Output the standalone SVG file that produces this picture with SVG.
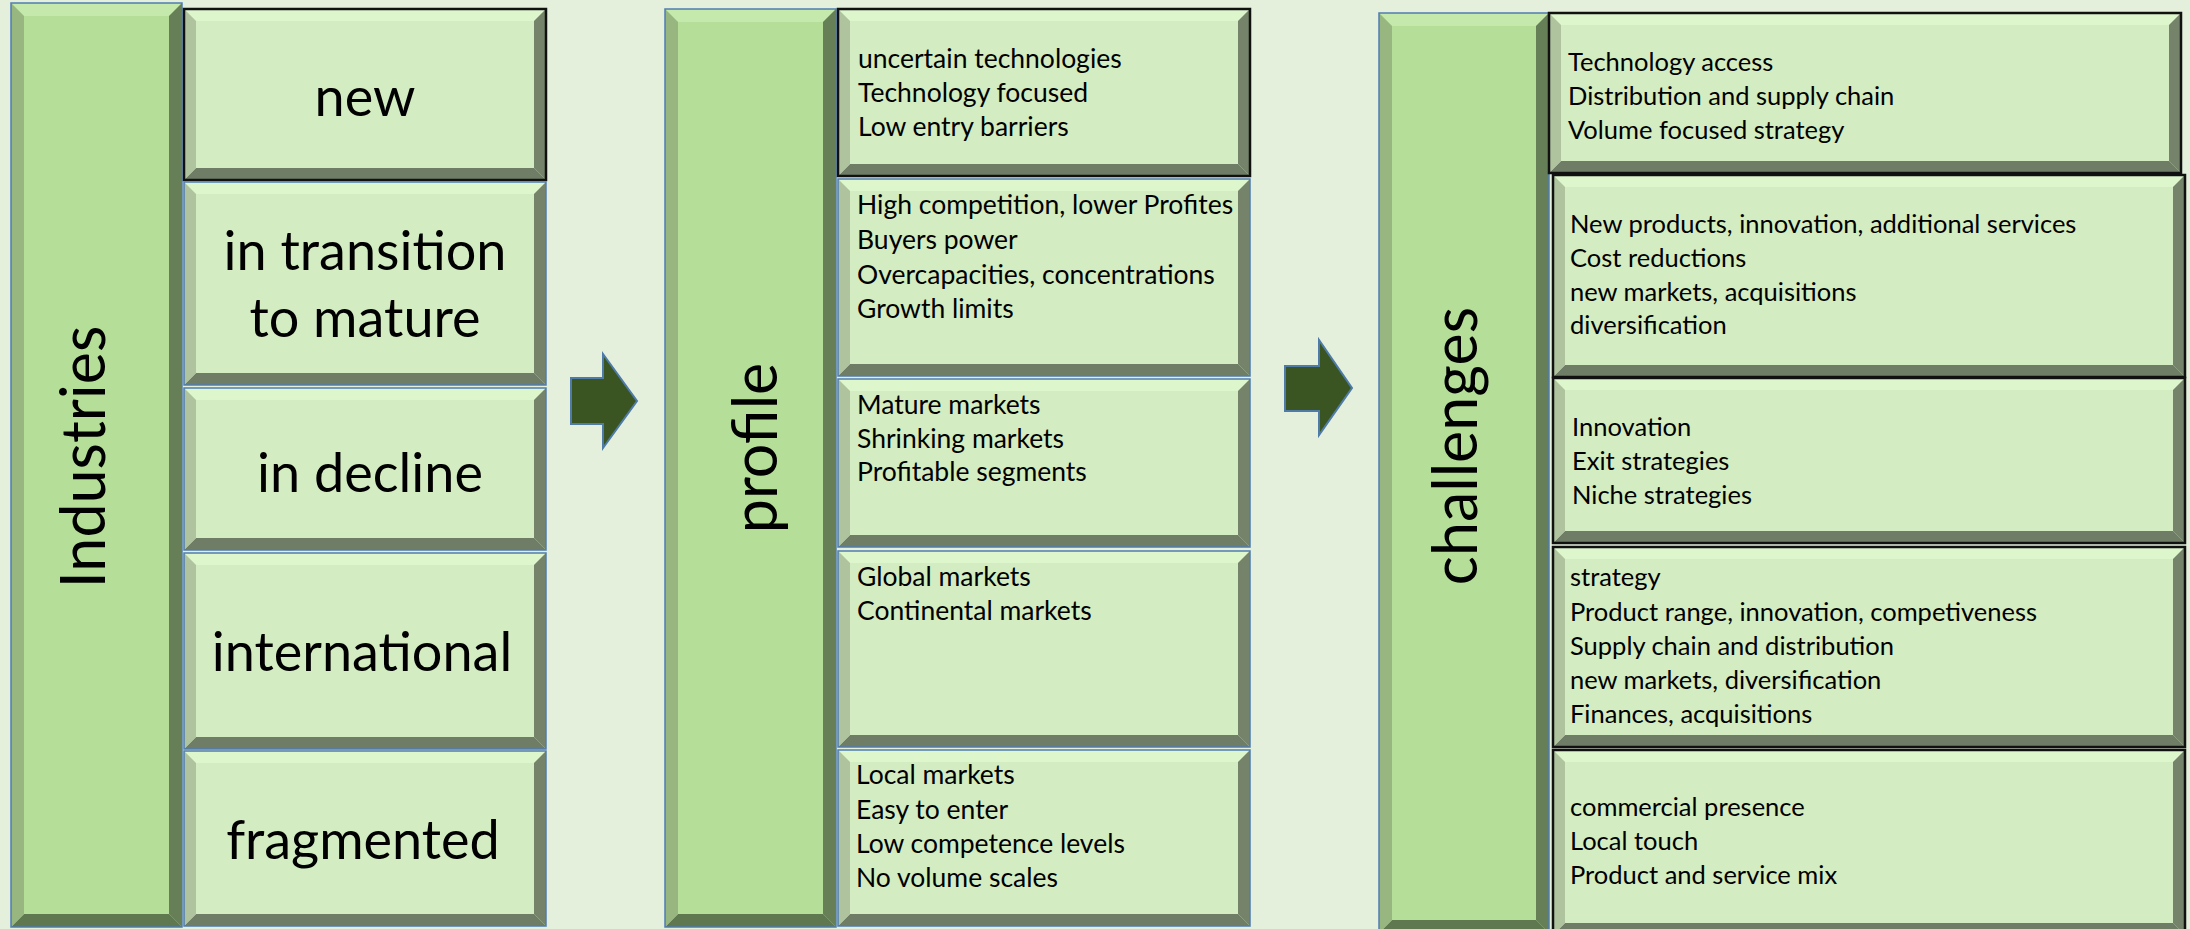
<svg xmlns="http://www.w3.org/2000/svg" width="2190" height="929" viewBox="0 0 2190 929">
<defs>
<style>
.bg{fill:#E4EFDC}
.bf{fill:#B5DE98}
.bt{fill:#C5E9AC}
.bl{fill:#98B680}
.br{fill:#677F56}
.bb{fill:#607850}
.bo{fill:none;stroke:#4F7DB0;stroke-width:1.5}
.f{fill:#D3ECC1}
.t{fill:#DDF6CC}
.l{fill:#AEC39E}
.r{fill:#74836A}
.b{fill:#6F7D66}
.ob{fill:none;stroke:#4F7DB0;stroke-width:1.5}
.ok{fill:none;stroke:#111;stroke-width:2.5}
.big{font-family:Lato,"Liberation Sans",sans-serif;font-size:54px;fill:#000;text-anchor:middle}
.rot{font-family:Lato,"Liberation Sans",sans-serif;font-size:61px;fill:#000;text-anchor:middle}
.lst{font-family:Lato,"Liberation Sans",sans-serif;font-size:26.5px;fill:#000}
.lsc{font-family:Lato,"Liberation Sans",sans-serif;font-size:25.5px;fill:#000}
.arr{fill:#3A5521;stroke:#4E7BA8;stroke-width:2}
</style>
</defs>
<rect class="bg" x="0" y="0" width="2190" height="929"/>

<!-- Column 1 -->
<g id="industries">
<rect class="bf" x="11" y="3" width="171" height="924"/>
<polygon class="bt" points="11,3 182,3 169,16 24,16"/>
<polygon class="bb" points="11,927 182,927 169,914 24,914"/>
<polygon class="bl" points="11,3 24,16 24,914 11,927"/>
<polygon class="br" points="182,3 169,16 169,914 182,927"/>
<rect class="bo" x="11" y="3" width="171" height="924"/>
<text class="rot" transform="translate(105,457) rotate(-90)">Industries</text>
</g>

<g id="ind-new">
<rect class="f" x="184" y="9" width="362" height="171"/>
<polygon class="t" points="184,9 546,9 534,21 196,21"/>
<polygon class="b" points="184,180 546,180 534,168 196,168"/>
<polygon class="l" points="184,9 196,21 196,168 184,180"/>
<polygon class="r" points="546,9 534,21 534,168 546,180"/>
<rect class="ok" x="184" y="9" width="362" height="171"/>
<text class="big" x="365" y="116">new</text>
</g>

<g id="ind-transition">
<rect class="f" x="184" y="182" width="362" height="203"/>
<polygon class="t" points="184,182 546,182 534,194 196,194"/>
<polygon class="b" points="184,385 546,385 534,373 196,373"/>
<polygon class="l" points="184,182 196,194 196,373 184,385"/>
<polygon class="r" points="546,182 534,194 534,373 546,385"/>
<rect class="ob" x="184" y="182" width="362" height="203"/>
<text class="big" x="365" y="270">in transition</text>
<text class="big" x="365" y="337">to mature</text>
</g>

<g id="ind-decline">
<rect class="f" x="184" y="388" width="362" height="162"/>
<polygon class="t" points="184,388 546,388 534,400 196,400"/>
<polygon class="b" points="184,550 546,550 534,538 196,538"/>
<polygon class="l" points="184,388 196,400 196,538 184,550"/>
<polygon class="r" points="546,388 534,400 534,538 546,550"/>
<rect class="ob" x="184" y="388" width="362" height="162"/>
<text class="big" x="370" y="492">in decline</text>
</g>

<g id="ind-international">
<rect class="f" x="184" y="553" width="362" height="196"/>
<polygon class="t" points="184,553 546,553 534,565 196,565"/>
<polygon class="b" points="184,749 546,749 534,737 196,737"/>
<polygon class="l" points="184,553 196,565 196,737 184,749"/>
<polygon class="r" points="546,553 534,565 534,737 546,749"/>
<rect class="ob" x="184" y="553" width="362" height="196"/>
<text class="big" x="362" y="671">international</text>
</g>

<g id="ind-fragmented">
<rect class="f" x="184" y="751" width="362" height="175"/>
<polygon class="t" points="184,751 546,751 534,763 196,763"/>
<polygon class="b" points="184,926 546,926 534,914 196,914"/>
<polygon class="l" points="184,751 196,763 196,914 184,926"/>
<polygon class="r" points="546,751 534,763 534,914 546,926"/>
<rect class="ob" x="184" y="751" width="362" height="175"/>
<text class="big" x="363" y="859">fragmented</text>
</g>

<!-- Column 2 -->
<g id="profile">
<rect class="bf" x="665" y="9" width="171" height="918"/>
<polygon class="bt" points="665,9 836,9 823,22 678,22"/>
<polygon class="bb" points="665,927 836,927 823,914 678,914"/>
<polygon class="bl" points="665,9 678,22 678,914 665,927"/>
<polygon class="br" points="836,9 823,22 823,914 836,927"/>
<rect class="bo" x="665" y="9" width="171" height="918"/>
<text class="rot" transform="translate(777,448) rotate(-90)">profile</text>
</g>

<g id="pro-1">
<rect class="f" x="838" y="9" width="412" height="167"/>
<polygon class="t" points="838,9 1250,9 1238,21 850,21"/>
<polygon class="b" points="838,176 1250,176 1238,164 850,164"/>
<polygon class="l" points="838,9 850,21 850,164 838,176"/>
<polygon class="r" points="1250,9 1238,21 1238,164 1250,176"/>
<rect class="ok" x="838" y="9" width="412" height="167"/>
<text class="lst" x="858" y="68">uncertain technologies</text>
<text class="lst" x="858" y="102">Technology focused</text>
<text class="lst" x="858" y="136">Low entry barriers</text>
</g>

<g id="pro-2">
<rect class="f" x="838" y="179" width="412" height="197"/>
<polygon class="t" points="838,179 1250,179 1238,191 850,191"/>
<polygon class="b" points="838,376 1250,376 1238,364 850,364"/>
<polygon class="l" points="838,179 850,191 850,364 838,376"/>
<polygon class="r" points="1250,179 1238,191 1238,364 1250,376"/>
<rect class="ob" x="838" y="179" width="412" height="197"/>
<text class="lst" x="857" y="214">High competition, lower Profites</text>
<text class="lst" x="857" y="249">Buyers power</text>
<text class="lst" x="857" y="284">Overcapacities, concentrations</text>
<text class="lst" x="857" y="318">Growth limits</text>
</g>

<g id="pro-3">
<rect class="f" x="838" y="379" width="412" height="168"/>
<polygon class="t" points="838,379 1250,379 1238,391 850,391"/>
<polygon class="b" points="838,547 1250,547 1238,535 850,535"/>
<polygon class="l" points="838,379 850,391 850,535 838,547"/>
<polygon class="r" points="1250,379 1238,391 1238,535 1250,547"/>
<rect class="ob" x="838" y="379" width="412" height="168"/>
<text class="lst" x="857" y="414">Mature markets</text>
<text class="lst" x="857" y="448">Shrinking markets</text>
<text class="lst" x="857" y="481">Profitable segments</text>
</g>

<g id="pro-4">
<rect class="f" x="838" y="551" width="412" height="196"/>
<polygon class="t" points="838,551 1250,551 1238,563 850,563"/>
<polygon class="b" points="838,747 1250,747 1238,735 850,735"/>
<polygon class="l" points="838,551 850,563 850,735 838,747"/>
<polygon class="r" points="1250,551 1238,563 1238,735 1250,747"/>
<rect class="ob" x="838" y="551" width="412" height="196"/>
<text class="lst" x="857" y="586">Global markets</text>
<text class="lst" x="857" y="620">Continental markets</text>
</g>

<g id="pro-5">
<rect class="f" x="838" y="750" width="412" height="176"/>
<polygon class="t" points="838,750 1250,750 1238,762 850,762"/>
<polygon class="b" points="838,926 1250,926 1238,914 850,914"/>
<polygon class="l" points="838,750 850,762 850,914 838,926"/>
<polygon class="r" points="1250,750 1238,762 1238,914 1250,926"/>
<rect class="ob" x="838" y="750" width="412" height="176"/>
<text class="lst" x="856" y="784">Local markets</text>
<text class="lst" x="856" y="819">Easy to enter</text>
<text class="lst" x="856" y="853">Low competence levels</text>
<text class="lst" x="856" y="887">No volume scales</text>
</g>

<!-- Column 3 -->
<g id="challenges">
<rect class="bf" x="1379" y="13" width="170" height="920"/>
<polygon class="bt" points="1379,13 1549,13 1536,26 1392,26"/>
<polygon class="bb" points="1379,933 1549,933 1536,920 1392,920"/>
<polygon class="bl" points="1379,13 1392,26 1392,920 1379,933"/>
<polygon class="br" points="1549,13 1536,26 1536,920 1549,933"/>
<rect class="bo" x="1379" y="13" width="170" height="920"/>
<text class="rot" transform="translate(1477,446) rotate(-90)">challenges</text>
</g>

<g id="ch-1">
<rect class="f" x="1549" y="13" width="632" height="160"/>
<polygon class="t" points="1549,13 2181,13 2169,25 1561,25"/>
<polygon class="b" points="1549,173 2181,173 2169,161 1561,161"/>
<polygon class="l" points="1549,13 1561,25 1561,161 1549,173"/>
<polygon class="r" points="2181,13 2169,25 2169,161 2181,173"/>
<rect class="ok" x="1549" y="13" width="632" height="160"/>
<text class="lsc" x="1568" y="71">Technology access</text>
<text class="lsc" x="1568" y="105">Distribution and supply chain</text>
<text class="lsc" x="1568" y="139">Volume focused strategy</text>
</g>

<g id="ch-2">
<rect class="f" x="1553" y="175" width="632" height="202"/>
<polygon class="t" points="1553,175 2185,175 2173,187 1565,187"/>
<polygon class="b" points="1553,377 2185,377 2173,365 1565,365"/>
<polygon class="l" points="1553,175 1565,187 1565,365 1553,377"/>
<polygon class="r" points="2185,175 2173,187 2173,365 2185,377"/>
<rect class="ok" x="1553" y="175" width="632" height="202"/>
<text class="lsc" x="1570" y="233">New products, innovation, additional services</text>
<text class="lsc" x="1570" y="267">Cost reductions</text>
<text class="lsc" x="1570" y="301">new markets, acquisitions</text>
<text class="lsc" x="1570" y="334">diversification</text>
</g>

<g id="ch-3">
<rect class="f" x="1553" y="378" width="632" height="165"/>
<polygon class="t" points="1553,378 2185,378 2173,390 1565,390"/>
<polygon class="b" points="1553,543 2185,543 2173,531 1565,531"/>
<polygon class="l" points="1553,378 1565,390 1565,531 1553,543"/>
<polygon class="r" points="2185,378 2173,390 2173,531 2185,543"/>
<rect class="ok" x="1553" y="378" width="632" height="165"/>
<text class="lsc" x="1572" y="436">Innovation</text>
<text class="lsc" x="1572" y="470">Exit strategies</text>
<text class="lsc" x="1572" y="504">Niche strategies</text>
</g>

<g id="ch-4">
<rect class="f" x="1553" y="547" width="632" height="200"/>
<polygon class="t" points="1553,547 2185,547 2173,559 1565,559"/>
<polygon class="b" points="1553,747 2185,747 2173,735 1565,735"/>
<polygon class="l" points="1553,547 1565,559 1565,735 1553,747"/>
<polygon class="r" points="2185,547 2173,559 2173,735 2185,747"/>
<rect class="ok" x="1553" y="547" width="632" height="200"/>
<text class="lsc" x="1570" y="586">strategy</text>
<text class="lsc" x="1570" y="621">Product range, innovation, competiveness</text>
<text class="lsc" x="1570" y="655">Supply chain and distribution</text>
<text class="lsc" x="1570" y="689">new markets, diversification</text>
<text class="lsc" x="1570" y="723">Finances, acquisitions</text>
</g>

<g id="ch-5">
<rect class="f" x="1553" y="750" width="632" height="185"/>
<polygon class="t" points="1553,750 2185,750 2173,762 1565,762"/>
<polygon class="b" points="1553,935 2185,935 2173,923 1565,923"/>
<polygon class="l" points="1553,750 1565,762 1565,923 1553,935"/>
<polygon class="r" points="2185,750 2173,762 2173,923 2185,935"/>
<rect class="ok" x="1553" y="750" width="632" height="185"/>
<text class="lsc" x="1570" y="816">commercial presence</text>
<text class="lsc" x="1570" y="850">Local touch</text>
<text class="lsc" x="1570" y="884">Product and service mix</text>
</g>

<g id="connectors">
<polygon class="arr" points="571,378 603,378 603,354 637,401 603,448 603,424 571,424"/>
<polygon class="arr" points="1285,366 1319,366 1319,340 1352,388 1319,435 1319,411 1285,411"/>
</g>
</svg>
